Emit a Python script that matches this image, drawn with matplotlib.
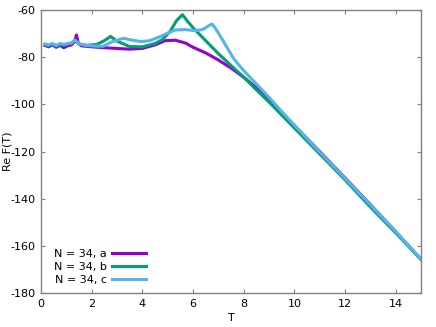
import matplotlib
matplotlib.use('Agg')
import matplotlib.pyplot as plt

plt.rcParams['font.family'] = 'DejaVu Sans'
plt.rcParams['axes.unicode_minus'] = False

#%% Data

t_a = [0.15, 0.3, 0.45, 0.6, 0.75, 0.9, 1.05, 1.2, 1.32, 1.4, 1.47, 1.6, 2.0, 2.5,
       3.0, 3.5, 4.0, 4.5, 4.9, 5.3, 5.7, 6.0, 6.5, 7.0, 7.5, 8.0, 8.5, 9.0, 9.5,
       10, 11, 12, 13, 14, 15]
v_a = [-75, -75.6, -74.8, -75.8, -75, -76, -75.2, -74.8, -73.5, -70.6, -74, -75.2,
       -75.6, -76, -76.3, -76.6, -76.3, -74.8, -73, -72.8, -74, -75.8, -78.2, -81.2,
       -84.6, -88.5, -93, -98, -103.5, -109, -120, -131.2, -142.5, -154, -165.7]

t_b = [0.15, 0.3, 0.45, 0.6, 0.75, 0.9, 1.05, 1.2, 1.34, 1.5, 1.8, 2.2, 2.5, 2.75,
       3.0, 3.5, 4.0, 4.5, 4.8, 5.1, 5.35, 5.58, 5.8, 6.0, 6.5, 7.0, 7.5, 8.0, 8.5,
       9.0, 9.5, 10, 11, 12, 13, 14, 15]
v_b = [-74.8, -75.2, -74.6, -75.4, -74.6, -75, -74.4, -74.2, -72.8, -74.5, -75,
       -74.6, -73, -71.2, -73.2, -75.5, -75.6, -74.2, -72.5, -69, -64.5, -62, -65,
       -67.5, -73, -78.5, -83.5, -88.5, -93.8, -99, -104.5, -110, -121, -132, -143.5,
       -154.5, -165.8]

t_c = [0.15, 0.3, 0.45, 0.6, 0.75, 0.9, 1.05, 1.2, 1.34, 1.5, 1.8, 2.1, 2.45, 2.8,
       3.25, 3.6, 3.95, 4.3, 4.7, 5.0, 5.3, 5.7, 6.1, 6.4, 6.6, 6.75, 6.9, 7.1, 7.35,
       7.6, 7.9, 8.25, 8.6, 9.0, 9.5, 10, 11, 12, 13, 14, 15]
v_c = [-74.4, -74.8, -74.2, -75, -74.2, -74.6, -74.2, -74, -72.7, -74.3, -75, -75.3,
       -75.4, -73.5, -72, -72.8, -73.4, -73, -71.3, -69.8, -68.5, -68.3, -68.8, -68.2,
       -66.8, -65.9, -68, -71.5, -76, -80.5, -84.5, -88.5, -92.5, -97, -103, -108.8,
       -120.2, -131.4, -142.6, -154, -165.5]

labels = ['N = 34, a', 'N = 34, b', 'N = 34, c']
colors = ['#9400d3', '#009e73', '#56b4e9']

#%% Plot

fig = plt.figure(figsize=(4.36, 3.27), dpi=100)
ax = fig.add_axes([41/436, 34/327, 380/436, 283/327])

for t, v, lab, col in zip([t_a, t_b, t_c], [v_a, v_b, v_c], labels, colors):
    ax.plot(t, v, color=col, lw=2.2, label=lab, solid_joinstyle='round')

ax.set_xlim(0, 15)
ax.set_ylim(-180, -60)
ax.set_xticks(range(0, 15, 2))
ax.set_yticks(range(-180, -59, 20))
ax.tick_params(direction='in', length=3, width=0.8, color='#808080',
               top=True, right=True, labelsize=8, pad=4)
for s in ax.spines.values():
    s.set_color('#808080')
    s.set_linewidth(1)

ax.set_xlabel('T', fontsize=8)
ax.set_ylabel('Re F(T)', fontsize=8)
ax.xaxis.set_label_coords(0.5, -0.072)
ax.yaxis.set_label_coords(-0.075, 0.5)

ax.legend(loc='lower left', frameon=False, markerfirst=False, fontsize=8,
          handlelength=3.0, labelspacing=0.25, handletextpad=0.5,
          bbox_to_anchor=(0.008, -0.006))

fig.savefig('out.png', dpi=100)
